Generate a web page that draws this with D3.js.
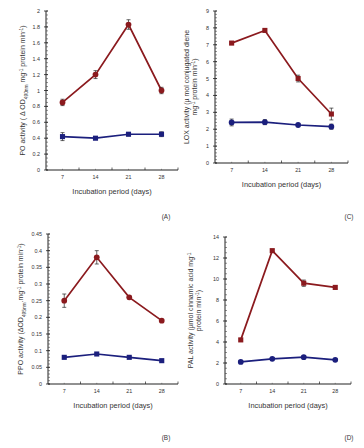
<!DOCTYPE html>
<html>
<head>
<meta charset="utf-8">
<script src="https://cdn.jsdelivr.net/npm/d3@7"></script>
<style>
  body { margin: 0; background: #fff; }
  text { font-family: "Liberation Sans", Arial, sans-serif; fill: #333; }
</style>
</head>
<body>
<div id="chart"></div>
<script>
// incubation period, days
var days = ["7", "14", "21", "28"];

// (A) PO activity
var poRed = [0.85, 1.2, 1.83, 1.0];
var poRedErr = [0.04, 0.05, 0.06, 0.04];
var poBlue = [0.42, 0.40, 0.45, 0.45];
var poBlueErr = [0.05, 0.01, 0.02, 0.03];
var poTicks = [0, 0.2, 0.4, 0.6, 0.8, 1, 1.2, 1.4, 1.6, 1.8, 2];

// (C) LOX activity
var loxRed = [7.1, 7.85, 5.0, 2.9];
var loxRedErr = [0.06, 0.06, 0.2, 0.35];
var loxBlue = [2.4, 2.42, 2.25, 2.15];
var loxBlueErr = [0.2, 0.15, 0.08, 0.15];
var loxTicks = [0, 1, 2, 3, 4, 5, 6, 7, 8, 9];

// (B) PPO activity
var ppoRed = [0.25, 0.38, 0.26, 0.19];
var ppoRedErr = [0.02, 0.02, 0.004, 0.003];
var ppoBlue = [0.08, 0.09, 0.08, 0.07];
var ppoBlueErr = [0.003, 0.003, 0.003, 0.003];
var ppoTicks = [0, 0.05, 0.1, 0.15, 0.2, 0.25, 0.3, 0.35, 0.4, 0.45];

// (D) PAL activity
var palRed = [4.2, 12.7, 9.6, 9.2];
var palRedErr = [0.1, 0.1, 0.3, 0.15];
var palBlue = [2.1, 2.4, 2.55, 2.3];
var palBlueErr = [0.1, 0.1, 0.1, 0.1];
var palTicks = [0, 2, 4, 6, 8, 10, 12, 14];

var red = "#8b1a1e", blue = "#1b1f7d";

var svg = d3.select("#chart").append("svg")
  .attr("width", 364).attr("height", 448);

function drawPanel(p) {
  var g = svg.append("g");

  var x = d3.scaleBand().domain(days).range([p.x0, p.x1]);
  var y = d3.scaleLinear().domain([0, p.max]).range([p.y0, p.y1]);

  // axis lines
  g.append("line").attr("x1", p.x0).attr("x2", p.x0)
    .attr("y1", p.y0).attr("y2", p.y1).attr("stroke", "#222").attr("stroke-width", 1);
  g.append("line").attr("x1", p.x0).attr("x2", p.x1)
    .attr("y1", p.y0).attr("y2", p.y0).attr("stroke", "#222").attr("stroke-width", 1);

  // y ticks, minor + major
  var minor = d3.range(0, p.max + 1e-9, p.minor);
  g.selectAll(".minor").data(minor).enter().append("line")
    .attr("x1", p.x0).attr("x2", p.x0 + 2)
    .attr("y1", d => y(d)).attr("y2", d => y(d))
    .attr("stroke", "#444").attr("stroke-width", 0.6);
  g.selectAll(".major").data(p.ticks).enter().append("line")
    .attr("x1", p.x0 - 2).attr("x2", p.x0 + 2)
    .attr("y1", d => y(d)).attr("y2", d => y(d))
    .attr("stroke", "#222").attr("stroke-width", 0.8);
  g.selectAll(".ylab").data(p.ticks).enter().append("text")
    .attr("x", p.x0 - 6).attr("y", d => y(d) + 2)
    .attr("text-anchor", "end").attr("font-size", 5.4)
    .text(d => d);

  // x ticks at band edges and centres
  var edges = days.map(d => x(d) + x.bandwidth());
  g.selectAll(".xt").data(edges).enter().append("line")
    .attr("x1", d => d).attr("x2", d => d)
    .attr("y1", p.y0).attr("y2", p.y0 - 2.5)
    .attr("stroke", "#222").attr("stroke-width", 0.7);
  g.selectAll(".xm").data(days).enter().append("line")
    .attr("x1", d => x(d) + x.bandwidth() / 2).attr("x2", d => x(d) + x.bandwidth() / 2)
    .attr("y1", p.y0).attr("y2", p.y0 - 1.2)
    .attr("stroke", "#444").attr("stroke-width", 0.5);
  g.selectAll(".xlab").data(days).enter().append("text")
    .attr("x", d => x(d) + x.bandwidth() / 2).attr("y", p.y0 + 9)
    .attr("text-anchor", "middle").attr("font-size", 5.4)
    .text(d => d);

  g.append("text")
    .attr("x", (p.x0 + p.x1) / 2).attr("y", p.y0 + 24)
    .attr("text-anchor", "middle").attr("font-size", 7.4)
    .text("Incubation period (days)");

  // y title, possibly two lines
  var yt = g.append("text")
    .attr("transform", "translate(" + p.ylx + "," + ((p.y0 + p.y1) / 2) + ") rotate(-90)")
    .attr("text-anchor", "middle").attr("font-size", 7);
  p.ylabel(yt);

  g.append("text").attr("x", p.tagx).attr("y", p.tagy)
    .attr("text-anchor", "middle").attr("font-size", 6.4).text(p.tag);

  // series
  [p.red, p.blue].forEach(function (s) {
    var pts = days.map((d, i) => ({ d: d, v: s.v[i], e: s.e[i] }));
    var cx = d => x(d.d) + x.bandwidth() / 2;
    g.append("path").datum(pts)
      .attr("fill", "none").attr("stroke", s.color).attr("stroke-width", 1.7)
      .attr("d", d3.line().x(cx).y(d => y(d.v)));
    var eb = g.append("g").selectAll("g").data(pts).enter().append("g");
    eb.append("line").attr("x1", cx).attr("x2", cx)
      .attr("y1", d => y(d.v - d.e)).attr("y2", d => y(d.v + d.e))
      .attr("stroke", "#222").attr("stroke-width", 0.7);
    eb.append("line").attr("x1", d => cx(d) - 2).attr("x2", d => cx(d) + 2)
      .attr("y1", d => y(d.v + d.e)).attr("y2", d => y(d.v + d.e))
      .attr("stroke", "#222").attr("stroke-width", 0.7);
    eb.append("line").attr("x1", d => cx(d) - 2).attr("x2", d => cx(d) + 2)
      .attr("y1", d => y(d.v - d.e)).attr("y2", d => y(d.v - d.e))
      .attr("stroke", "#222").attr("stroke-width", 0.7);
    var sym = d3.symbol().type(s.shape === "square" ? d3.symbolSquare : d3.symbolCircle).size(26);
    g.append("g").selectAll("path").data(pts).enter().append("path")
      .attr("d", sym)
      .attr("transform", d => "translate(" + cx(d) + "," + y(d.v) + ")")
      .attr("fill", s.color);
  });
}

// append tspans; parts = [[text, "sub"|"sup"|null], ...]
function label(t, parts) {
  parts.forEach(function (s) {
    var ts = t.append("tspan").text(s[0]);
    if (s[1] === "sup") ts.attr("baseline-shift", "super").attr("font-size", 4.8);
    if (s[1] === "sub") ts.attr("baseline-shift", "sub").attr("font-size", 4.8);
  });
}

drawPanel({
  x0: 46, x1: 178, y0: 170, y1: 11, max: 2, minor: 0.05, ticks: poTicks,
  ylx: 25, tag: "(A)", tagx: 166, tagy: 219,
  red: { v: poRed, e: poRedErr, color: red, shape: "circle" },
  blue: { v: poBlue, e: poBlueErr, color: blue, shape: "square" },
  ylabel: t => label(t, [["PO activity ( Δ OD", null], ["490nm", "sub"], [" mg", null], ["-1", "sup"], [" protein  min", null], ["-1", "sup"], [")", null]])
});

drawPanel({
  x0: 215, x1: 348, y0: 163, y1: 11, max: 9, minor: 0.2, ticks: loxTicks,
  ylx: 189, tag: "(C)", tagx: 349, tagy: 219,
  red: { v: loxRed, e: loxRedErr, color: red, shape: "square" },
  blue: { v: loxBlue, e: loxBlueErr, color: blue, shape: "circle" },
  ylabel: function (t) {
    t.append("tspan").attr("x", 0).attr("dy", 0).text("LOX activity (µ mol conjugated diene");
    t.append("tspan").attr("x", 0).attr("dy", 8).text("mg");
    label(t, [["-1", "sup"], [" protein min", null], ["-1", "sup"], [")", null]]);
  }
});

drawPanel({
  x0: 48, x1: 178, y0: 384, y1: 234, max: 0.45, minor: 0.01, ticks: ppoTicks,
  ylx: 23, tag: "(B)", tagx: 166, tagy: 440,
  red: { v: ppoRed, e: ppoRedErr, color: red, shape: "circle" },
  blue: { v: ppoBlue, e: ppoBlueErr, color: blue, shape: "square" },
  ylabel: t => label(t, [["PPO activity (ΔOD", null], ["495nm", "sub"], [".mg", null], ["-1", "sup"], [" protein min", null], ["-1", "sup"], [")", null]])
});

drawPanel({
  x0: 225, x1: 351, y0: 384, y1: 237, max: 14, minor: 0.5, ticks: palTicks,
  ylx: 193, tag: "(D)", tagx: 349, tagy: 440,
  red: { v: palRed, e: palRedErr, color: red, shape: "square" },
  blue: { v: palBlue, e: palBlueErr, color: blue, shape: "circle" },
  ylabel: function (t) {
    t.append("tspan").attr("x", 0).attr("dy", 0).text("PAL activity (µmol cinnamic acid mg");
    label(t, [["-1", "sup"]]);
    t.append("tspan").attr("x", 0).attr("dy", 8).text("protein min");
    label(t, [["-1", "sup"], [")", null]]);
  }
});
</script>
</body>
</html>
